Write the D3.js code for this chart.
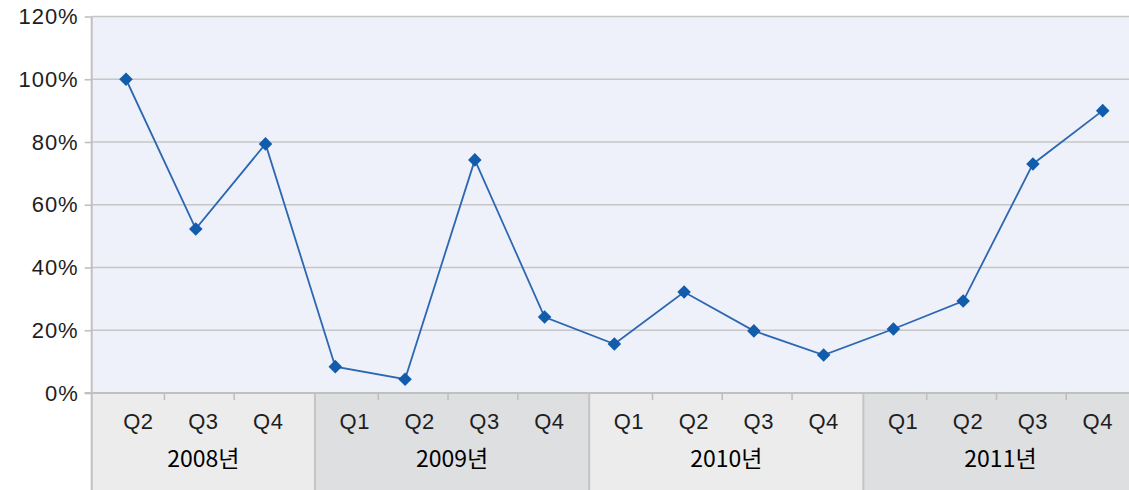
<!DOCTYPE html>
<html>
<head>
<meta charset="utf-8">
<script src="https://cdn.jsdelivr.net/npm/d3@7"></script>
<style>
  body { margin: 0; background: #fff; }
  svg { display: block; }
</style>
</head>
<body>
<svg width="1129" height="490"></svg>
<script>
////////////////////////////// DATA //////////////////////////////

var years = ['2008년', '2009년', '2010년', '2011년'];
var yearQuarters = [['Q2', 'Q3', 'Q4'],
                    ['Q1', 'Q2', 'Q3', 'Q4'],
                    ['Q1', 'Q2', 'Q3', 'Q4'],
                    ['Q1', 'Q2', 'Q3', 'Q4']];
// one value per quarter, in percent
var values = [100, 52.3, 79.4, 8.4, 4.4, 74.3, 24.2, 15.6, 32.2, 19.8, 12.1, 20.4, 29.3, 73.0, 90.0];
var yTicks = [0, 20, 40, 60, 80, 100, 120];

////////////////////////////// PARAMS //////////////////////////////

var svg = d3.select('svg'),
    W = +svg.attr('width'),
    H = +svg.attr('height');

var params = {'left': 91.7,
              'top': 16.5,
              'bottom': 393,
              'firstX': 126,
              'lastX': 1102.7,
              'groupPad': 1.38,   // extra width units per year group (the office chart draws it that way)
              'labelStep': 0.93,
              'tickShift': -4};

// flat list of keys for the point scale
var keys = [];
yearQuarters.forEach(function(qs, i) {
    qs.forEach(function(q) { keys.push(years[i] + ' ' + q); });
});

var x = d3.scalePoint().domain(keys).range([params.firstX, params.lastX]);
var step = x.step();
var plotRight = x(keys[keys.length - 1]) + step / 2;
var y = d3.scaleLinear().domain([0, 120]).range([params.bottom, params.top]);

// year group layout on the category axis
var units = yearQuarters.map(function(qs) { return qs.length + params.groupPad; });
var cum = [0];
units.forEach(function(u, i) { cum.push(cum[i] + u); });
var g = d3.scaleLinear().domain([0, cum[cum.length - 1]]).range([params.left, plotRight]);

////////////////////////////// PLOT AREA //////////////////////////////

svg.append('rect')
    .attr('x', params.left).attr('y', params.top)
    .attr('width', plotRight - params.left)
    .attr('height', params.bottom - params.top)
    .attr('fill', '#eef1f9');

// gridlines
svg.append('g').selectAll('line')
    .data(yTicks).enter().append('line')
    .attr('x1', params.left).attr('x2', W)
    .attr('y1', function(d) { return y(d); })
    .attr('y2', function(d) { return y(d); })
    .attr('stroke', '#c6c6c6')
    .attr('stroke-width', 1.6);

// category band backgrounds
var groups = svg.append('g').attr('class', 'year_groups');
groups.selectAll('rect')
    .data(years).enter().append('rect')
    .attr('x', function(d, i) { return g(cum[i]); })
    .attr('y', params.bottom)
    .attr('width', function(d, i) { return g(cum[i + 1]) - g(cum[i]); })
    .attr('height', H - params.bottom)
    .attr('fill', function(d, i) { return i % 2 == 0 ? '#ececec' : '#dedfe1'; });

// separators between years
groups.selectAll('line.sep')
    .data(years.slice(1)).enter().append('line')
    .attr('class', 'sep')
    .attr('x1', function(d, i) { return g(cum[i + 1]); })
    .attr('x2', function(d, i) { return g(cum[i + 1]); })
    .attr('y1', params.bottom).attr('y2', H)
    .attr('stroke', '#c4c4c4').attr('stroke-width', 2);

// quarter ticks and labels inside each year group
years.forEach(function(yr, i) {
    var qs = yearQuarters[i];
    var centre = (g(cum[i]) + g(cum[i + 1])) / 2;
    var tickX = d3.range(1, qs.length).map(function(k) {
        return centre + (k - qs.length / 2) * step + params.tickShift;
    });
    var lab = d3.scalePoint().domain(qs)
        .range([centre - (qs.length - 1) / 2 * step * params.labelStep,
                centre + (qs.length - 1) / 2 * step * params.labelStep]);

    groups.append('g').selectAll('line')
        .data(tickX).enter().append('line')
        .attr('x1', function(d) { return d; })
        .attr('x2', function(d) { return d; })
        .attr('y1', params.bottom).attr('y2', params.bottom + 7)
        .attr('stroke', '#bdbdbd').attr('stroke-width', 1.5);

    groups.append('g').selectAll('text')
        .data(qs).enter().append('text')
        .attr('x', function(d) { return lab(d); })
        .attr('y', 429)
        .attr('text-anchor', 'middle')
        .attr('font-family', '"Liberation Sans", Arial, sans-serif')
        .attr('font-size', 22)
        .attr('letter-spacing', 0.5)
        .attr('fill', '#1e1e1e')
        .text(function(d) { return d; });

    groups.append('text')
        .attr('x', centre)
        .attr('y', 467)
        .attr('text-anchor', 'middle')
        .attr('font-family', '"Noto Sans CJK KR", "Noto Sans", sans-serif')
        .attr('font-size', 23)
        .attr('fill', '#000')
        .text(yr);
});

// axis lines
svg.append('line')
    .attr('x1', params.left).attr('x2', params.left)
    .attr('y1', params.top).attr('y2', H)
    .attr('stroke', '#c0c0c0').attr('stroke-width', 2);
svg.append('line')
    .attr('x1', params.left - 7).attr('x2', W)
    .attr('y1', params.bottom).attr('y2', params.bottom)
    .attr('stroke', '#c0c0c0').attr('stroke-width', 2);

////////////////////////////// Y AXIS //////////////////////////////

var yAxis = svg.append('g')
    .attr('transform', 'translate(' + params.left + ',0)')
    .call(d3.axisLeft(y).tickValues(yTicks).tickSize(7).tickPadding(6)
          .tickFormat(function(d) { return d + '%'; }));
yAxis.select('.domain').remove();
yAxis.selectAll('.tick line').attr('stroke', '#c0c0c0').attr('stroke-width', 1.6);
yAxis.selectAll('.tick text')
    .attr('font-family', '"Liberation Sans", Arial, sans-serif')
    .attr('font-size', 22)
    .attr('letter-spacing', 1)
    .attr('fill', '#1e1e1e');

////////////////////////////// LINE //////////////////////////////

var line = d3.line()
    .x(function(d, i) { return x(keys[i]); })
    .y(function(d) { return y(d); });

svg.append('path')
    .datum(values)
    .attr('fill', 'none')
    .attr('stroke', '#2c67b2')
    .attr('stroke-width', 1.8)
    .attr('d', line);

svg.append('g').selectAll('path')
    .data(values).enter().append('path')
    .attr('d', d3.symbol().type(d3.symbolSquare).size(92))
    .attr('transform', function(d, i) {
        return 'translate(' + x(keys[i]) + ',' + y(d) + ') rotate(45)';
    })
    .attr('fill', '#115cab');
</script>
</body>
</html>
